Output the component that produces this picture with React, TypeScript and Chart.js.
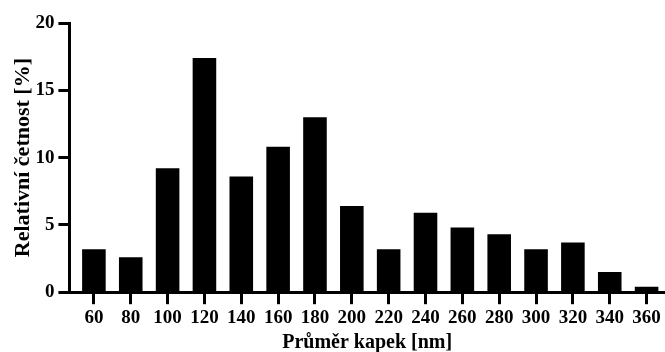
import React, { useEffect, useRef } from "react";
import { Chart, registerables } from "chart.js";

Chart.register(...registerables);

const diameters = [60, 80, 100, 120, 140, 160, 180, 200, 220, 240, 260, 280, 300, 320, 340, 360];
const frequencies = [3.2, 2.6, 9.2, 17.4, 8.6, 10.8, 13.0, 6.4, 3.2, 5.9, 4.8, 4.3, 3.2, 3.7, 1.5, 0.4];
const yTicks = [0, 5, 10, 15, 20];
const xTitle = "Průměr kapek [nm]";
const yTitle = "Relativní četnost [%]";

const FONT = "'Liberation Serif', 'Times New Roman', serif";

export default function App() {
  const ref = useRef<HTMLCanvasElement | null>(null);

  useEffect(() => {
    document.body.style.margin = "0";
    const canvas = ref.current;
    if (!canvas) return;
    const chart = new Chart(canvas, {
      type: "bar",
      data: {
        datasets: [
          {
            data: diameters.map((d, i) => ({ x: d, y: frequencies[i] })),
            backgroundColor: "#000",
            borderWidth: 0,
            barPercentage: 0.64,
            categoryPercentage: 1,
          },
        ],
      },
      options: {
        responsive: false,
        animation: false,
        layout: { padding: { top: 23, right: 0, left: 10, bottom: -3 } },
        plugins: { legend: { display: false }, tooltip: { enabled: false } },
        scales: {
          x: {
            type: "linear",
            offset: false,
            min: 46.7,
            max: 370,
            afterBuildTicks: (scale: any) => {
              scale.ticks = diameters.map((v) => ({ value: v }));
            },
            grid: {
              offset: false,
              drawOnChartArea: false,
              drawTicks: true,
              tickLength: 12,
              tickWidth: 3,
              tickColor: "#000",
            },
            border: { display: true, color: "#000", width: 3 },
            ticks: {
              color: "#000",
              font: { family: FONT, size: 19, weight: "bold" },
              padding: 2,
              maxRotation: 0,
              autoSkip: false,
            },
            title: {
              display: true,
              text: xTitle,
              color: "#000",
              font: { family: FONT, size: 20, weight: "bold" },
              padding: { top: 0, bottom: 0 },
            },
          },
          y: {
            min: 0,
            max: 20,
            afterBuildTicks: (scale: any) => {
              scale.ticks = yTicks.map((v) => ({ value: v }));
            },
            grid: {
              drawOnChartArea: false,
              drawTicks: true,
              tickLength: 11,
              tickWidth: 3,
              tickColor: "#000",
            },
            border: { display: true, color: "#000", width: 3 },
            ticks: {
              color: "#000",
              font: { family: FONT, size: 19, weight: "bold" },
              padding: 4,
            },
            title: {
              display: true,
              text: yTitle,
              color: "#000",
              font: { family: FONT, size: 22, weight: "bold" },
              padding: { top: 0, bottom: -5 },
            },
          },
        },
      },
    });
    return () => chart.destroy();
  }, []);

  return (
    <div style={{ position: "absolute", left: 0, top: 0, width: 665, height: 352 }}>
      <canvas ref={ref} width={665} height={352} />
    </div>
  );
}
